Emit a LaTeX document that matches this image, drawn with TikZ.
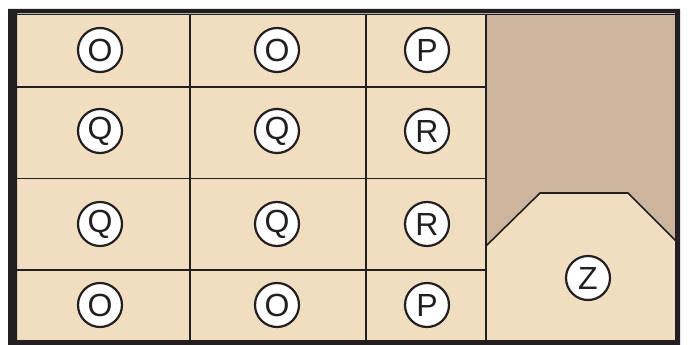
\documentclass[tikz,border=0pt]{standalone}
\usepackage{fontspec}
\setmainfont{Liberation Sans}
\definecolor{lighttan}{RGB}{241,222,192}
\definecolor{darktan}{RGB}{205,181,157}
\definecolor{ink}{RGB}{35,31,32}
\tikzset{
  badge/.style={circle, draw=ink, line width=2.2pt, fill=white, minimum size=44pt, inner sep=0pt, font=\fontsize{32}{32}\selectfont, text=ink},
  grid/.style={draw=ink, line width=1.6pt}
}
\begin{document}
\begin{tikzpicture}[x=1pt,y=-1pt]
\useasboundingbox (0,0) rectangle (688,345);
% fills
\fill[lighttan] (17,14) rectangle (675,340);
\fill[darktan] (486,14) rectangle (675,340);
\fill[lighttan] (486,246) -- (540,193) -- (628,193) -- (676,241) -- (676,340) -- (486,340) -- cycle;
\draw[grid] (486,246) -- (540,193) -- (628,193) -- (676,241);
% grid lines
\draw[grid] (17,14.5) -- (675,14.5);
\draw[grid] (17,87) -- (486,87);
\draw[grid] (17,178.5) -- (486,178.5);
\draw[grid] (17,270) -- (486,270);
\draw[grid] (190,14) -- (190,340);
\draw[grid] (366,14) -- (366,340);
\draw[grid] (486,14) -- (486,340);
% outer frame
\fill[ink, even odd rule] (8,9) rectangle (680,345) (17,13.5) rectangle (675,340);
% badges
\node[badge] (a1) at (100,50) {O};
\node[badge] (a2) at (277,50) {O};
\node[badge] (a3) at (427,50) {P};
\node[badge] (b1) at (100,131) {Q};
\node[badge] (b2) at (277,131) {Q};
\node[badge] (b3) at (427,131) {R};
\node[badge] (c1) at (100,224) {Q};
\node[badge] (c2) at (277,224) {Q};
\node[badge] (c3) at (427,224) {R};
\node[badge] (d1) at (100,305) {O};
\node[badge] (d2) at (277,305) {O};
\node[badge] (d3) at (427,305) {P};
\node[badge] (z) at (588,278) {Z};
\end{tikzpicture}
\end{document}
